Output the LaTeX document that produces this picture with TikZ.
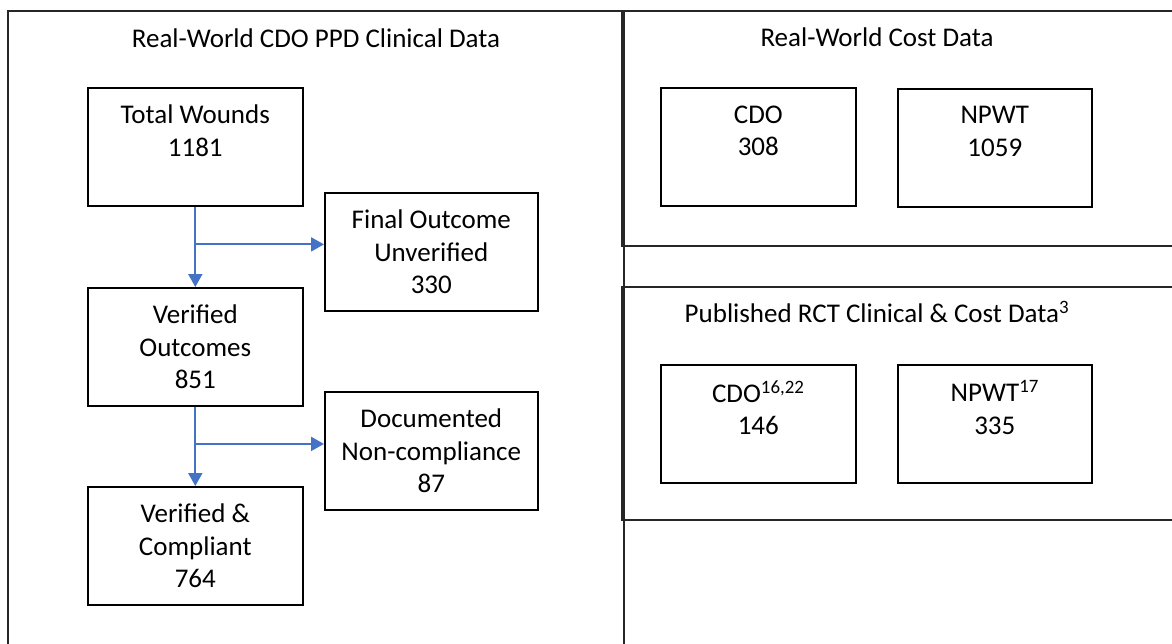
\documentclass[tikz,border=0pt]{standalone}
\usepackage{fontspec}
\setmainfont{Carlito}
\usetikzlibrary{arrows.meta,calc}
\definecolor{arrowblue}{HTML}{4472C4}
\begin{document}
\begin{tikzpicture}[x=1pt,y=-1pt,
  panel/.style={draw=black!85, line width=1.4pt},
  box/.style={draw=black, line width=1.6pt, minimum height=118pt, align=center,
    font=\fontsize{27}{32.5}\selectfont, inner sep=0pt, anchor=north west},
  ttl/.style={font=\fontsize{27}{32}\selectfont, inner sep=0pt},
  flow/.style={draw=arrowblue, line width=2pt, -{Triangle[width=14pt,length=13pt]}}]
\useasboundingbox (0,0) rectangle (1172,643);
\clip (0,0) rectangle (1172,643);
\fill[white] (0,0) rectangle (1172,643);
% panels
\draw[panel] (8,11) rectangle (624,700);
\draw[panel] (622,11) rectangle (1200,246);
\draw[panel] (622,287) rectangle (1200,520);
% titles
\node[ttl] (t1) at (316,38) {Real-World CDO PPD Clinical Data};
\node[ttl] (t2) at (877,37) {Real-World Cost Data};
\node[ttl] (t3) at (877,312) {Published RCT Clinical \& Cost Data\textsuperscript{3}};
% flow boxes
\node[box, minimum width=215pt] (tw) at (87,87) {Total Wounds\\1181\\\mbox{}};
\node[box, minimum width=213pt] (fo) at (324,192) {Final Outcome\\Unverified\\330};
\node[box, minimum width=215pt] (vo) at (87,287) {Verified\\Outcomes\\851};
\node[box, minimum width=213pt] (dn) at (324,391) {Documented\\Non-compliance\\87};
\node[box, minimum width=215pt] (vc) at (87,486) {Verified \&\\Compliant\\764};
% cost boxes
\node[box, minimum width=195pt] (c1) at (660,87) {CDO\\308\\\mbox{}};
\node[box, minimum width=194pt] (n1) at (897,88) {NPWT\\1059\\\mbox{}};
\node[box, minimum width=195pt] (c2) at (660,364) {CDO\textsuperscript{16,22}\\146\\\mbox{}};
\node[box, minimum width=194pt] (n2) at (897,364) {NPWT\textsuperscript{17}\\335\\\mbox{}};
% connectors
\coordinate (j1) at ($(tw.south)!0.47!(vo.north)$);
\coordinate (j2) at ($(vo.south)!0.47!(vc.north)$);
\draw[flow] (tw.south) -- (vo.north);
\draw[flow] (j1) -- (j1 -| fo.west);
\draw[flow] (vo.south) -- (vc.north);
\draw[flow] (j2) -- (j2 -| dn.west);
\end{tikzpicture}
\end{document}
